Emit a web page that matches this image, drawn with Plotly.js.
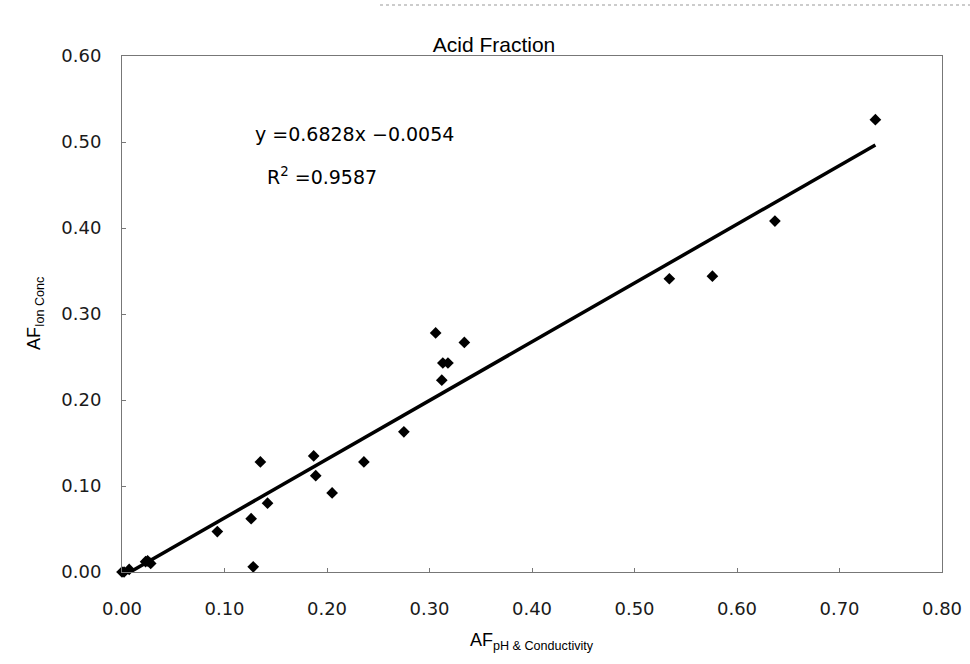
<!DOCTYPE html>
<html>
<head>
<meta charset="utf-8">
<script src="https://cdn.plot.ly/plotly-3.0.1.min.js"></script>
<style>html,body{margin:0;padding:0;background:#fff;}#chart{width:970px;height:664px;}</style>
</head>
<body>
<div id="chart"></div>
<script>
// Data
var afPhCond = [0.000, 0.002, 0.007, 0.023, 0.025, 0.028, 0.093, 0.126, 0.128, 0.135, 0.142, 0.187, 0.189, 0.205, 0.236, 0.275, 0.306, 0.312, 0.313, 0.318, 0.334, 0.534, 0.576, 0.637, 0.735];
var afIonConc = [0.000, 0.000, 0.003, 0.012, 0.013, 0.010, 0.047, 0.062, 0.006, 0.128, 0.080, 0.135, 0.112, 0.092, 0.128, 0.163, 0.278, 0.223, 0.243, 0.243, 0.267, 0.341, 0.344, 0.408, 0.526];
var trendSlope = 0.6828;
var trendIntercept = -0.0054;
var trendR2 = 0.9587;
var xTickVals = [0, 0.1, 0.2, 0.3, 0.4, 0.5, 0.6, 0.7, 0.8];
var xTickText = ['0.00','0.10','0.20','0.30','0.40','0.50','0.60','0.70','0.80'];
var yTickVals = [0, 0.1, 0.2, 0.3, 0.4, 0.5, 0.6];
var yTickText = ['0.00','0.10','0.20','0.30','0.40','0.50','0.60'];

var xMin = Math.min.apply(null, afPhCond);
var xMax = Math.max.apply(null, afPhCond);
var trendX = [xMin, xMax];
var trendY = trendX.map(function(v){ return trendSlope * v + trendIntercept; });

var FONT = 'Liberation Sans, Arial, sans-serif';
var NUMFONT = 'DejaVu Sans, Liberation Sans, sans-serif';

var traces = [
  {
    x: trendX, y: trendY, type: 'scatter', mode: 'lines',
    line: {color: '#000', width: 3.5}, hoverinfo: 'skip', showlegend: false
  },
  {
    x: afPhCond, y: afIonConc, type: 'scatter', mode: 'markers',
    marker: {symbol: 'diamond', size: 9, color: '#000'},
    cliponaxis: false, showlegend: false
  }
];

var layout = {
  width: 970, height: 664,
  margin: {l: 122, r: 28, t: 56, b: 92},
  paper_bgcolor: '#fff', plot_bgcolor: '#fff',
  font: {family: FONT, color: '#000', size: 18},
  title: {
    text: 'Acid Fraction', font: {family: FONT, size: 21, color: '#000'},
    xref: 'container', yref: 'container', x: 494/970, xanchor: 'center',
    y: 1 - 45/664, yanchor: 'middle'
  },
  xaxis: {
    range: [0, 0.8], tickvals: xTickVals, ticktext: xTickText,
    showgrid: false, zeroline: false,
    showline: true, linecolor: '#777', linewidth: 1, mirror: true,
    ticks: 'inside', ticklen: 4, tickcolor: '#777',
    ticklabelstandoff: 20,
    tickfont: {family: NUMFONT, size: 18, color: '#1a1a1a'}
  },
  yaxis: {
    range: [0, 0.6], tickvals: yTickVals, ticktext: yTickText,
    showgrid: false, zeroline: false,
    showline: true, linecolor: '#777', linewidth: 1, mirror: true,
    ticks: 'inside', ticklen: 4, tickcolor: '#777',
    ticklabelstandoff: 16,
    tickfont: {family: NUMFONT, size: 18, color: '#1a1a1a'}
  },
  annotations: [
    {
      xref: 'paper', yref: 'paper', x: (253-122)/820, y: (572-134)/516,
      xanchor: 'left', yanchor: 'middle', showarrow: false,
      text: 'y =' + trendSlope.toFixed(4) + 'x \u2212' + Math.abs(trendIntercept).toFixed(4),
      font: {family: NUMFONT, size: 19, color: '#000'}
    },
    {
      xref: 'paper', yref: 'paper', x: (265-122)/820, y: (572-176)/516,
      xanchor: 'left', yanchor: 'middle', showarrow: false,
      text: 'R<sup>2</sup> =' + trendR2.toFixed(4),
      font: {family: NUMFONT, size: 19, color: '#000'}
    },
    {
      xref: 'paper', yref: 'paper', x: 0.5, y: (572-641)/516,
      xanchor: 'center', yanchor: 'middle', showarrow: false,
      text: 'AF<sub>pH &amp; Conductivity</sub>',
      font: {family: FONT, size: 18, color: '#000'}
    },
    {
      xref: 'paper', yref: 'paper', x: (35-122)/820, y: 0.5,
      xanchor: 'center', yanchor: 'middle', showarrow: false, textangle: -90,
      text: 'AF<sub>Ion Conc</sub>',
      font: {family: FONT, size: 18, color: '#000'}
    }
  ],
  shapes: [
    {type: 'line', xref: 'paper', yref: 'paper', x0: (380-122)/820, x1: (970-122)/820,
     y0: (572-5)/516, y1: (572-5)/516, line: {color: '#999', width: 1, dash: 'dot'}}
  ]
};

Plotly.newPlot('chart', traces, layout, {displayModeBar: false, staticPlot: true});
</script>
</body>
</html>
